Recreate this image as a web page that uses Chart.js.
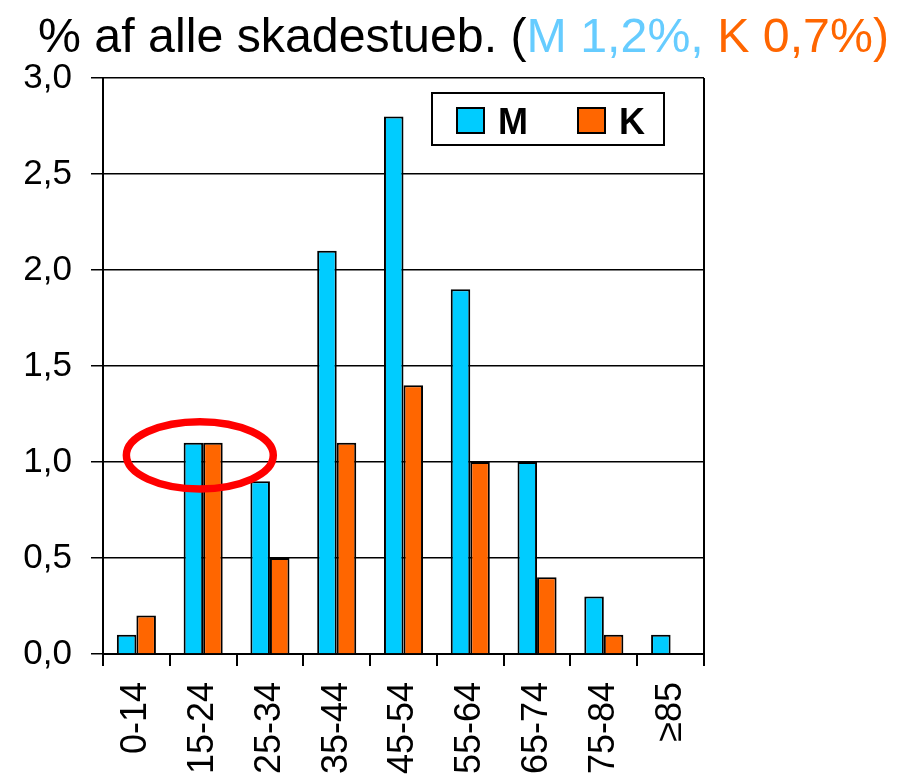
<!DOCTYPE html>
<html lang="da">
<head>
<meta charset="utf-8">
<script src="https://cdn.jsdelivr.net/npm/chart.js@4.4.1/dist/chart.umd.min.js"></script>
<style>
    html, body { margin: 0; padding: 0; background: #fff; }
    #wrap { position: relative; width: 897px; height: 775px; }
    #title {
        position: absolute; left: 38px; top: 11px;
        font: 48.3px "Liberation Sans", Arial, sans-serif;
        line-height: 48px; white-space: nowrap; color: #000;
    }
    .m { color: #66CCFF; }
    .k { color: #FF6600; }
    canvas { position: absolute; left: 0; top: 0; }
</style>
</head>
<body>
<div id="wrap">
    <canvas id="chart" width="897" height="775"></canvas>
    <div id="title">% af alle skadestueb. (<span class="m">M 1,2%, </span><span class="k">K 0,7%)</span></div>
</div>
<script>
// --- Data ---
const ageGroups = ['0-14', '15-24', '25-34', '35-44', '45-54', '55-64', '65-74', '75-84', '≥85'];
const menValues = [0.1, 1.1, 0.9, 2.1, 2.8, 1.9, 1.0, 0.3, 0.1];
const womenValues = [0.2, 1.1, 0.5, 1.1, 1.4, 1.0, 0.4, 0.1, null];
const yTicks = [0, 0.5, 1.0, 1.5, 2.0, 2.5, 3.0];

// red ring drawn around the 15-24 group
const ringIndex = 1;
const ringValue = 1.035;

const FONT = '"Liberation Sans", Arial, sans-serif';

function formatTick(v) {
    return Number(v).toFixed(1).replace('.', ',');
}

// --- Plugins ---
const frameLine = {
    id: 'frameLine',
    afterDraw(chart) {
        const { ctx, chartArea } = chart;
        ctx.save();
        ctx.strokeStyle = '#000';
        ctx.lineWidth = 2;
        ctx.beginPath();
        ctx.moveTo(chartArea.right, chartArea.top);
        ctx.lineTo(chartArea.right, chartArea.bottom);
        ctx.stroke();
        ctx.restore();
    }
};

const ring = {
    id: 'ring',
    afterDatasetsDraw(chart) {
        const { ctx } = chart;
        const xs = chart.scales.x, ys = chart.scales.y;
        const cw = xs.getPixelForValue(1) - xs.getPixelForValue(0);
        const cx = xs.getPixelForValue(ringIndex) - 0.05 * cw;
        const cy = ys.getPixelForValue(ringValue);
        const rx = 1.1 * cw;
        const ry = ys.getPixelForValue(ringValue - 0.175) - cy;
        ctx.save();
        ctx.strokeStyle = '#FF0000';
        ctx.lineWidth = 7.5;
        ctx.beginPath();
        ctx.ellipse(cx, cy, rx, ry, 0, 0, Math.PI * 2);
        ctx.stroke();
        ctx.restore();
    }
};

const legendBox = {
    id: 'legendBox',
    afterDraw(chart) {
        const { ctx, chartArea } = chart;
        const bx = chartArea.left + 329, by = chartArea.top + 15;
        ctx.save();
        ctx.fillStyle = '#fff';
        ctx.fillRect(bx, by, 232, 52);
        ctx.strokeStyle = '#000';
        ctx.lineWidth = 2;
        ctx.strokeRect(bx, by, 232, 52);
        ctx.font = 'bold 36px ' + FONT;
        ctx.textBaseline = 'alphabetic';
        const items = [[0, 25], [1, 146]];
        items.forEach(([i, off]) => {
            const ds = chart.data.datasets[i];
            ctx.fillStyle = ds.backgroundColor;
            ctx.fillRect(bx + off, by + 15, 27, 25);
            ctx.lineWidth = 2;
            ctx.strokeRect(bx + off, by + 15, 27, 25);
            ctx.fillStyle = '#000';
            ctx.fillText(ds.label, bx + off + 41, by + 41);
        });
        ctx.restore();
    }
};

// --- Chart ---
new Chart(document.getElementById('chart'), {
    type: 'bar',
    data: {
        labels: ageGroups,
        datasets: [
            {
                label: 'M',
                data: menValues,
                backgroundColor: '#00CCFF',
                borderColor: '#000',
                borderWidth: 2
            },
            {
                label: 'K',
                data: womenValues,
                backgroundColor: '#FF6600',
                borderColor: '#000',
                borderWidth: 2
            }
        ]
    },
    options: {
        responsive: false,
        animation: false,
        devicePixelRatio: 1,
        categoryPercentage: 0.585,
        barPercentage: 1.0,
        layout: { padding: { top: 78, right: 193, left: 0, bottom: 0 } },
        plugins: {
            legend: { display: false },
            title: { display: false },
            tooltip: { enabled: false }
        },
        scales: {
            y: {
                min: 0,
                max: 3,
                afterFit: s => { s.width = 103; },
                afterBuildTicks: s => { s.ticks = yTicks.map(v => ({ value: v })); },
                ticks: {
                    color: '#000',
                    padding: 19,
                    font: { family: FONT, size: 35 },
                    callback: v => formatTick(v)
                },
                grid: { color: '#000', lineWidth: 1.5, tickLength: 12 },
                border: { color: '#000', width: 2 }
            },
            x: {
                afterFit: s => { s.height = 121; },
                ticks: {
                    color: '#000',
                    padding: 16,
                    minRotation: 90,
                    maxRotation: 90,
                    autoSkip: false,
                    font: { family: FONT, size: 36 }
                },
                grid: { drawOnChartArea: false, offset: true, color: '#000', lineWidth: 2, tickLength: 12 },
                border: { color: '#000', width: 2 }
            }
        }
    },
    plugins: [ring, frameLine, legendBox]
});
</script>
</body>
</html>
